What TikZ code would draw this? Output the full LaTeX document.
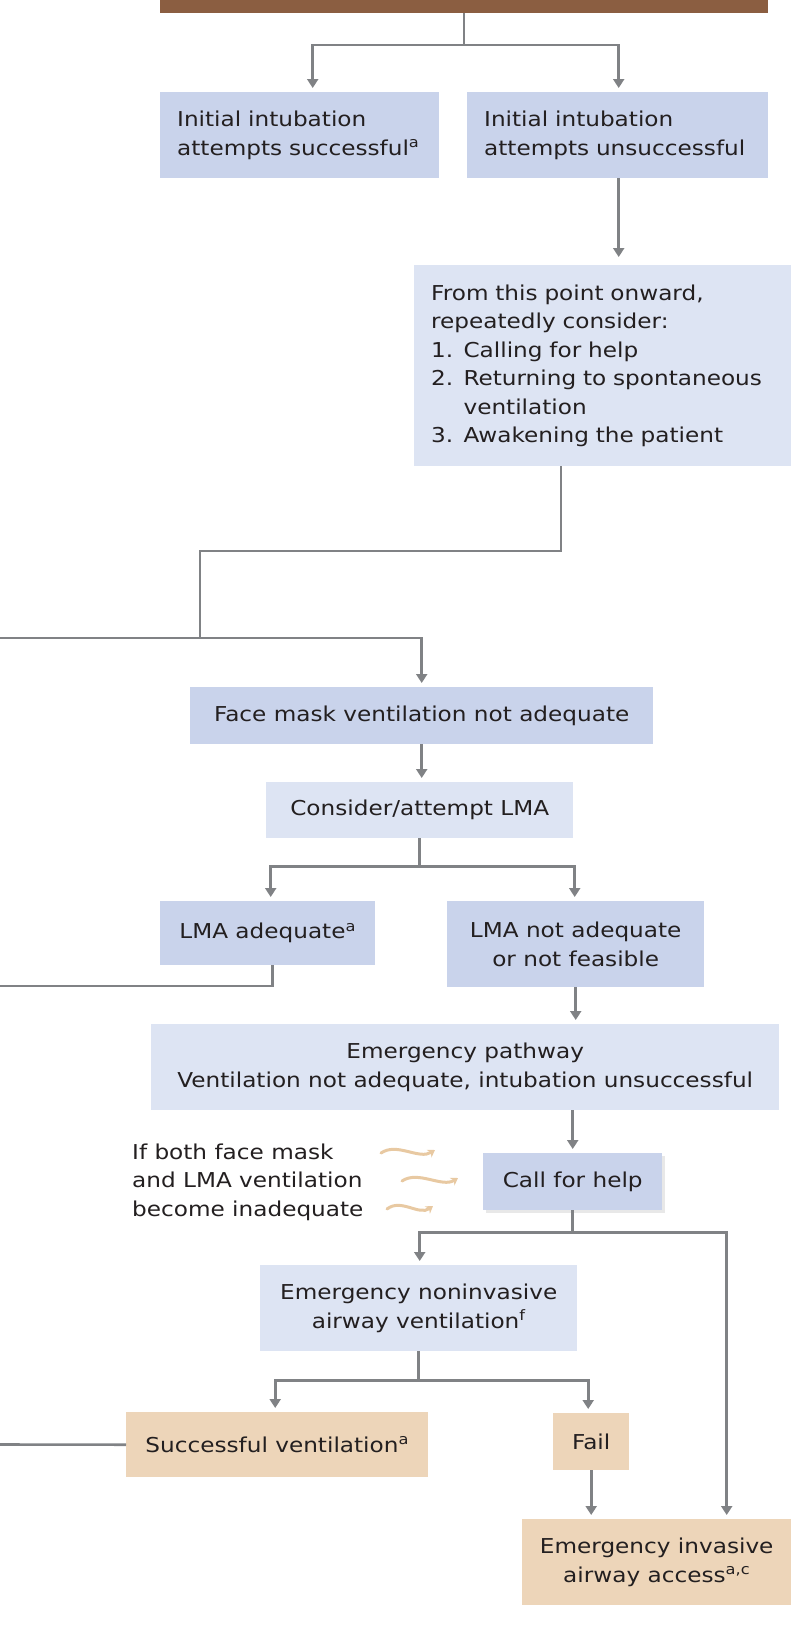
\documentclass[tikz,border=0pt]{standalone}
\usepackage{fontspec}
\setmainfont[FakeStretch=1.13]{DejaVu Sans}
\usetikzlibrary{arrows.meta,positioning,calc,shadows}
\definecolor{ink}{HTML}{231F20}
\definecolor{barbrown}{HTML}{8B5E41}
\definecolor{boxdark}{HTML}{C9D3EB}
\definecolor{boxlight}{HTML}{DDE4F3}
\definecolor{boxtan}{HTML}{EDD5B9}
\definecolor{linegrey}{HTML}{808285}
\definecolor{wavetan}{HTML}{E8C9A2}
\newcommand{\flowfont}{\fontsize{20.5}{28.5}\selectfont}
\newcommand{\supa}[1]{\textsuperscript{#1}}
\tikzset{
  basebox/.style={inner sep=0pt, align=center, text=ink, font=\flowfont, anchor=north west},
  darkbox/.style={basebox, fill=boxdark},
  lightbox/.style={basebox, fill=boxlight},
  tanbox/.style={basebox, fill=boxtan},
  leftbox/.style={align=left, inner xsep=17pt, text width=#1-34pt, minimum width=#1},
  link/.style={draw=linegrey, line width=2.6pt},
  arr/.style={link, -{Triangle[length=9pt,width=11pt]}, shorten >=4pt},
  wavy/.style={draw=wavetan, line width=3pt, line cap=round, -{Stealth[length=7pt,width=9pt]}}}

\begin{document}
\begin{tikzpicture}[x=1pt, y=-1pt]
  \useasboundingbox (0,0) rectangle (791,1642);
  % top of the chart (cut off)
  \node[basebox, fill=barbrown, minimum width=608pt, minimum height=13pt] (top) at (160,0) {};

  \node[darkbox, leftbox=279pt, minimum height=86pt] (succ) at (160,92)
    {Initial intubation\\attempts successful\supa{a}};
  \node[darkbox, leftbox=301pt, minimum height=86pt] (unsucc) at (467,92)
    {Initial intubation\\attempts unsuccessful};
  \node[lightbox, leftbox=377pt, minimum height=201pt] (consider) at (414,265)
    {From this point onward,\\repeatedly consider:\\1. Calling for help\\
     2. Returning to spontaneous\\\hphantom{2. }ventilation\\3. Awakening the patient};

  \node[darkbox, minimum width=463pt, minimum height=57pt] (facemask) at (190,687)
    {Face mask ventilation not adequate};
  \node[lightbox, minimum width=307pt, minimum height=56pt] (lma) at (266,782)
    {Consider/attempt LMA};
  \node[darkbox, minimum width=215pt, minimum height=64pt] (lmaok) at (160,901)
    {LMA adequate\supa{a}};
  \node[darkbox, minimum width=257pt, minimum height=86pt] (lmano) at (447,901)
    {LMA not adequate\\or not feasible};
  \node[lightbox, minimum width=628pt, minimum height=86pt] (pathway) at (151,1024)
    {Emergency pathway\\Ventilation not adequate, intubation unsuccessful};

  \node[darkbox, minimum width=179pt, minimum height=57pt,
        drop shadow={shadow xshift=3pt, shadow yshift=-3pt, opacity=0.18}] (call) at (483,1153)
    {Call for help};
  \node[basebox, anchor=west, align=left] (note) at (132,1182)
    {If both face mask\\and LMA ventilation\\become inadequate};

  \node[lightbox, minimum width=317pt, minimum height=86pt] (noninv) at (260,1265)
    {Emergency noninvasive\\airway ventilation\supa{f}};
  \node[tanbox, minimum width=302pt, minimum height=65pt] (succvent) at (126,1412)
    {Successful ventilation\supa{a}};
  \node[tanbox, minimum width=76pt, minimum height=57pt] (fail) at (553,1413)
    {Fail};
  \node[tanbox, minimum width=269pt, minimum height=86pt] (invasive) at (522,1519)
    {Emergency invasive\\airway access\supa{a,c}};

  % bends and loose ends
  \coordinate (split1) at (464,45);
  \coordinate (bendA) at (561,551);
  \coordinate (bendB) at (200,551);
  \coordinate (join1) at (200,638);
  \coordinate (loose1) at (0,638);
  \coordinate (split2) at ($(lma.south)+(0,28)$);
  \coordinate (loose2) at (0,986);
  \coordinate (split3) at ($(call.south)+(0,22)$);
  \coordinate (split4) at ($(noninv.south)+(0,29)$);
  \coordinate (loose3) at (0,1444.5);

  \draw[link] (top.south -| split1) -- (split1);
  \draw[arr] (split1) -| ([xshift=13pt]succ.north);
  \draw[arr] (split1) -| ([xshift=1pt]unsucc.north);
  \draw[arr, shorten >=8pt] ([xshift=1pt]unsucc.south) -- ([xshift=1pt]unsucc.south |- consider.north);

  \draw[link] (consider.south -| bendA) -- (bendA) -- (bendB) -- (join1);
  \draw[arr] (loose1) -| (facemask.north);
  \draw[arr] (facemask.south) -- (facemask.south |- lma.north);

  \draw[link] (lma.south) -- (split2);
  \draw[arr] (split2) -| ([xshift=3pt]lmaok.north);
  \draw[arr] (split2) -| ([xshift=-1pt]lmano.north);
  \draw[link] ([xshift=5pt]lmaok.south) |- (loose2);
  \draw[arr] (lmano.south) -- (lmano.south |- pathway.north);
  \draw[arr] (call.north |- pathway.south) -- (call.north);

  \draw[wavy] (381,1153) .. controls +(16,-11) and +(-16,10) .. (435,1150);
  \draw[wavy] (402,1181) .. controls +(16,-11) and +(-16,10) .. (458,1178);
  \draw[wavy] (387,1209) .. controls +(14,-11) and +(-14,10) .. (433,1206);

  \draw[link] (call.south) -- (split3);
  \draw[arr] (split3) -| ([xshift=1pt]noninv.north);
  \draw[arr] (split3) -| ([xshift=70pt]invasive.north);

  \draw[link] (noninv.south) -- (split4);
  \draw[arr] (split4) -| ([xshift=-2pt]succvent.north);
  \draw[arr] (split4) -| ([xshift=-3pt]fail.north);
  \draw[arr] (fail.south) -- (fail.south |- invasive.north);
  \draw[link] (succvent.west) -- (loose3);
\end{tikzpicture}
\end{document}
